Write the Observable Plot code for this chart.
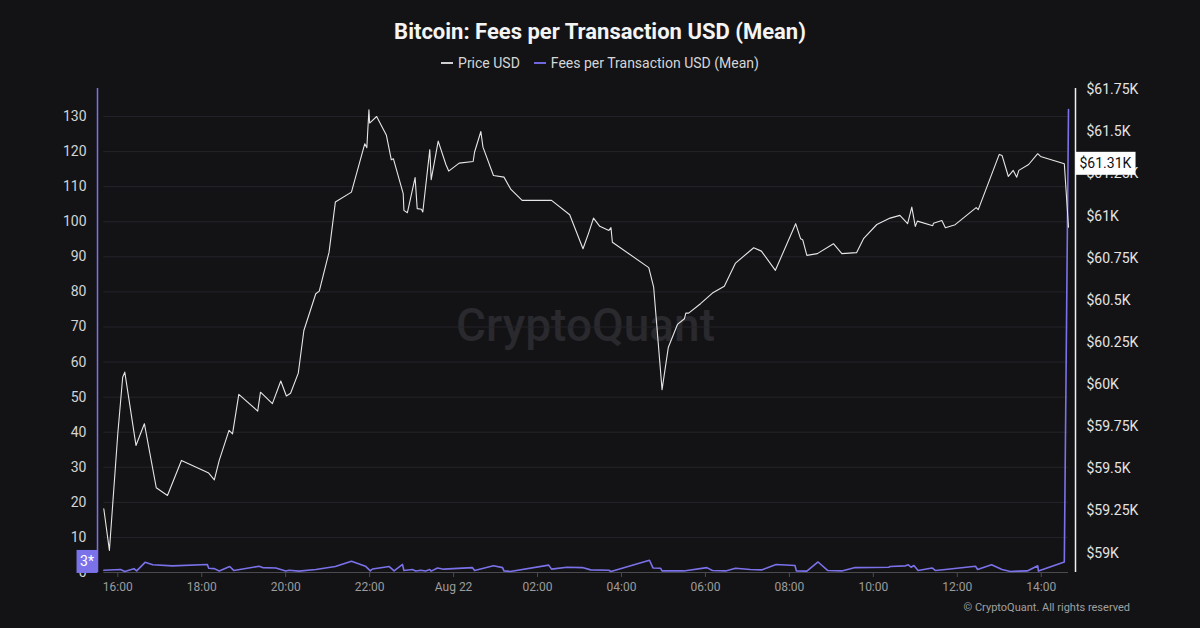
<!DOCTYPE html>
<html><head><meta charset="utf-8">
<script src="https://cdn.jsdelivr.net/npm/d3@7"></script>
<script src="https://cdn.jsdelivr.net/npm/@observablehq/plot@0.6"></script>
<style>
html,body{margin:0;padding:0;background:#131316;}
body{width:1200px;height:628px;overflow:hidden;font-family:Roboto,"Noto Sans",sans-serif;position:relative;}
#title{position:absolute;top:18px;left:0;width:1200px;text-align:center;font-size:22px;font-weight:700;color:#f4f4f4;line-height:28px;}
#legend{position:absolute;top:54px;left:0;width:1200px;text-align:center;font-size:14px;color:#d6d6d6;line-height:18px;}
#legend .item{display:inline-block;margin:0 7px;}
#legend .sw{display:inline-block;width:12px;height:2px;vertical-align:middle;margin-right:5px;position:relative;top:-1px;}
#chart{position:absolute;top:80px;left:0;}
#copy{position:absolute;right:70px;top:601px;font-size:11px;color:#a0a0a0;line-height:14px;}
</style>
</head><body>
<div id="title">Bitcoin: Fees per Transaction USD (Mean)</div>
<div id="legend"></div>
<div id="chart"></div>
<div id="copy">© CryptoQuant. All rights reserved</div>
<script>
// ---- data ----
const seriesNames = ["Price USD", "Fees per Transaction USD (Mean)"];
const seriesColors = ["#e6e6e6", "#7b72ea"];
const legendSwatch = ["#cfcfcf", "#6f66e0"];

const priceTimes = ["08-21 15:40","08-21 15:48","08-21 16:00","08-21 16:07","08-21 16:10","08-21 16:26","08-21 16:38","08-21 16:55","08-21 17:11","08-21 17:31",
"08-21 18:10","08-21 18:18","08-21 18:25","08-21 18:39","08-21 18:44","08-21 18:53","08-21 19:20","08-21 19:24","08-21 19:41","08-21 19:53",
"08-21 20:01","08-21 20:07","08-21 20:18","08-21 20:26","08-21 20:43","08-21 20:48","08-21 21:02","08-21 21:11","08-21 21:34","08-21 21:53",
"08-21 21:56","08-21 21:59","08-21 22:00","08-21 22:10","08-21 22:24","08-21 22:31","08-21 22:34","08-21 22:48","08-21 22:49","08-21 22:54",
"08-21 23:05","08-21 23:08","08-21 23:14","08-21 23:16","08-21 23:26","08-21 23:28","08-21 23:38","08-21 23:49","08-21 23:53","08-22 00:08",
"08-22 00:28","08-22 00:30","08-22 00:39","08-22 00:42","08-22 00:57","08-22 01:12","08-22 01:22","08-22 01:38","08-22 02:20","08-22 02:46",
"08-22 03:05","08-22 03:13","08-22 03:20","08-22 03:29","08-22 03:42","08-22 03:45","08-22 03:47","08-22 04:39","08-22 04:46","08-22 04:58",
"08-22 05:07","08-22 05:20","08-22 05:30","08-22 05:32","08-22 05:36","08-22 05:53","08-22 06:10","08-22 06:27","08-22 06:43","08-22 07:09",
"08-22 07:20","08-22 07:40","08-22 08:09","08-22 08:16","08-22 08:19","08-22 08:25","08-22 08:40","08-22 09:03","08-22 09:15","08-22 09:36",
"08-22 09:46","08-22 10:05","08-22 10:24","08-22 10:38","08-22 10:49","08-22 10:55","08-22 11:00","08-22 11:03","08-22 11:25","08-22 11:26",
"08-22 11:38","08-22 11:43","08-22 11:57","08-22 12:27","08-22 12:30","08-22 13:00","08-22 13:04","08-22 13:13","08-22 13:20","08-22 13:25",
"08-22 13:28","08-22 13:42","08-22 13:55","08-22 13:59","08-22 14:33","08-22 14:39"];
const priceValues = [59263,59016,59708,60044,60074,59639,59768,59388,59342,59550,
59475,59435,59550,59728,59708,59942,59843,59955,59887,60021,
59932,59949,60068,60321,60539,60555,60786,61083,61142,61429,
61406,61631,61552,61591,61479,61334,61340,61133,61034,61020,
61228,61044,61040,61024,61394,61216,61445,61306,61267,61314,
61324,61380,61502,61409,61241,61231,61158,61093,61093,61008,
60806,60899,60988,60939,60915,60931,60845,60694,60578,59970,
60222,60357,60391,60424,60424,60480,60543,60584,60721,60812,
60792,60678,60955,60866,60860,60767,60777,60836,60777,60783,
60866,60950,60988,61004,60955,61053,60939,60970,60943,60958,
60974,60931,60949,61050,61038,61366,61360,61235,61271,61231,
61271,61306,61370,61354,61310,60934];

const feeTimes = ["08-21 15:40","08-21 16:04","08-21 16:10","08-21 16:23","08-21 16:27","08-21 16:39","08-21 16:50","08-21 17:18","08-21 18:08","08-21 18:10",
"08-21 18:18","08-21 18:25","08-21 18:40","08-21 18:46","08-21 19:22","08-21 19:27","08-21 19:46","08-21 20:00","08-21 20:05","08-21 20:19",
"08-21 20:43","08-21 21:11","08-21 21:34","08-21 21:54","08-21 22:01","08-21 22:04","08-21 22:28","08-21 22:35","08-21 22:47","08-21 22:49",
"08-21 23:01","08-21 23:06","08-21 23:13","08-21 23:20","08-21 23:26","08-21 23:28","08-21 23:37","08-21 23:46","08-22 00:27","08-22 00:30",
"08-22 00:57","08-22 01:10","08-22 01:12","08-22 01:21","08-22 02:16","08-22 02:20","08-22 02:42","08-22 03:04","08-22 03:16","08-22 03:42",
"08-22 03:45","08-22 04:40","08-22 04:45","08-22 04:56","08-22 04:58","08-22 05:29","08-22 06:02","08-22 06:10","08-22 06:29","08-22 06:43",
"08-22 07:04","08-22 07:21","08-22 07:41","08-22 08:08","08-22 08:10","08-22 08:25","08-22 08:41","08-22 08:55","08-22 09:15","08-22 09:34",
"08-22 10:22","08-22 10:24","08-22 10:46","08-22 10:50","08-22 10:54","08-22 10:58","08-22 11:04","08-22 11:24","08-22 11:29","08-22 11:43",
"08-22 12:26","08-22 12:29","08-22 12:49","08-22 13:04","08-22 13:16","08-22 13:28","08-22 13:40","08-22 13:55","08-22 13:56","08-22 14:33",
"08-22 14:39"];
const feeValues = [0.65,0.85,0.3,1.1,0.45,2.9,2.2,1.9,2.3,1.2,
1.1,0.45,1.7,0.55,1.8,1.4,1.3,0.4,0.65,0.4,
0.85,1.7,3.2,1.8,0.45,1.0,1.7,0.45,2.3,0.55,
0.85,0.45,0.65,0.45,0.85,0.4,1.3,0.95,1.4,0.55,
1.9,1.4,0.45,0.3,2.1,0.95,1.5,1.4,0.75,0.65,
0.3,3.5,1.3,1.2,0.45,0.45,1.4,0.55,0.45,1.2,
0.85,0.75,2.3,2.0,0.45,0.4,3.0,0.55,0.45,1.4,
1.5,1.7,1.9,2.2,1.5,2.0,0.55,1.3,0.55,0.85,
1.8,0.85,2.2,0.85,0.3,0.4,0.45,1.9,0.4,3.0,
132];

const leftTicks = [0,10,20,30,40,50,60,70,80,90,100,110,120,130];
const rightTicks = [59000,59250,59500,59750,60000,60250,60500,60750,61000,61250,61500,61750];
const xTickTimes = ["08-21 16:00","08-21 18:00","08-21 20:00","08-21 22:00","08-22 00:00","08-22 02:00","08-22 04:00","08-22 06:00","08-22 08:00","08-22 10:00","08-22 12:00","08-22 14:00"];
const xDomainTimes = ["08-21 15:31","08-22 14:49"];
const leftDomain = [0, 138];
const rightDomain = [58885, 61757];

// ---- build ----
const parse = s => d3.utcParse("%Y-%m-%d %H:%M")("2024-" + s);
const priceData = priceTimes.map((t, i) => ({t: parse(t), p: priceValues[i]}));
const feeData = feeTimes.map((t, i) => ({t: parse(t), v: feeValues[i]}));
const xTicks = xTickTimes.map(parse);
const xDomain = xDomainTimes.map(parse);
const p2y = d3.scaleLinear().domain(rightDomain).range(leftDomain);
const tFirst = feeData[0].t, tLast = feeData[feeData.length - 1].t;
const fmtX = d => (d.getUTCHours() === 0 && d.getUTCMinutes() === 0) ? d3.utcFormat("%b %-d")(d) : d3.utcFormat("%H:%M")(d);
const fmtP = v => "$" + d3.format("~")(Math.round(v / 10) * 10 / 1000) + "K";
const lastFee = feeValues[feeValues.length - 2];
const lastPrice = priceValues[priceValues.length - 2];

document.getElementById("legend").innerHTML = seriesNames.map((n, i) =>
  `<span class="item"><span class="sw" style="background:${legendSwatch[i]}"></span>${n}</span>`).join("");

const chart = Plot.plot({
  width: 1200, height: 548,
  marginLeft: 97, marginRight: 125, marginTop: 8, marginBottom: 56,
  style: {background: "transparent", fontFamily: "Roboto, 'Noto Sans', sans-serif", overflow: "visible"},
  x: {type: "utc", domain: xDomain},
  y: {domain: leftDomain},
  marks: [
    Plot.text(["CryptoQuant"], {frameAnchor: "middle", fontSize: 46, fontWeight: 500, fill: "#29292e", dx: -1, dy: -4}),
    Plot.ruleY(leftTicks.filter(d => d > 0), {x1: () => tFirst, x2: () => tLast, stroke: "#24242a", strokeWidth: 1}),
    Plot.ruleY([0], {x1: () => tFirst, x2: () => tLast, stroke: "#4a4a50", strokeWidth: 1}),
    Plot.ruleX([xDomain[0]], {stroke: seriesColors[1], strokeWidth: 1.5}),
    Plot.ruleX([xDomain[1]], {stroke: "#f0f0f0", strokeWidth: 1.5}),
    Plot.axisY(leftTicks, {anchor: "left", tickSize: 0, tickPadding: 11, fontSize: 14, fill: "#d4d4d4", label: null}),
    Plot.axisY(rightTicks.map(p2y), {anchor: "right", tickSize: 0, tickPadding: 11, fontSize: 14, fill: "#e4e4e4", label: null, tickFormat: d => fmtP(p2y.invert(d))}),
    Plot.axisX(xTicks, {anchor: "bottom", tickSize: 5, tickPadding: 5, fontSize: 12, fill: "#9c9c9c", stroke: "#4a4a50", label: null, tickFormat: fmtX}),
    Plot.line(feeData, {x: "t", y: "v", stroke: seriesColors[1], strokeWidth: 1.6}),
    Plot.line(priceData, {x: "t", y: d => p2y(d.p), stroke: seriesColors[0], strokeWidth: 1.1}),
    Plot.text([lastFee], {y: d => d, frameAnchor: "left", dx: -10.5, textAnchor: "middle", text: d => `${d}*`, fill: "#ffffff", fontSize: 14, className: "flag-fee"}),
    Plot.text([lastPrice], {y: d => p2y(d), frameAnchor: "right", dx: 4, textAnchor: "start", text: d => fmtP(d), fill: "#111114", fontSize: 14, className: "flag-price"})
  ]
});
document.getElementById("chart").append(chart);

function boxText(cls, fill, padX, padY) {
  chart.querySelectorAll(`g.${cls} text`).forEach(t => {
    const b = t.getBBox();
    const r = document.createElementNS("http://www.w3.org/2000/svg", "rect");
    r.setAttribute("x", b.x - padX); r.setAttribute("y", b.y - padY);
    r.setAttribute("width", b.width + 2 * padX); r.setAttribute("height", b.height + 2 * padY);
    r.setAttribute("fill", fill);
    if (t.getAttribute("transform")) r.setAttribute("transform", t.getAttribute("transform"));
    t.parentNode.insertBefore(r, t);
  });
}
boxText("flag-fee", seriesColors[1], 3.5, 3.5);
boxText("flag-price", "#ffffff", 4, 3.5);
</script>
</body></html>
